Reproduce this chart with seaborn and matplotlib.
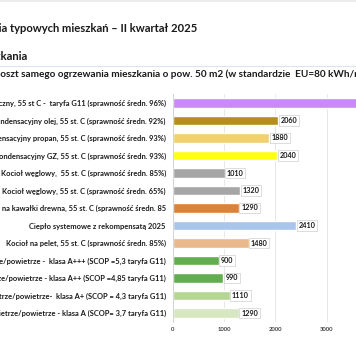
import matplotlib
matplotlib.use('Agg')
import matplotlib.pyplot as plt
import seaborn as sns
import pandas as pd

# data
categories = [
    'Kocioł elektryczny, 55 st C -  taryfa G11 (sprawność średn. 96%)',
    'Kocioł kondensacyjny olej, 55 st. C (sprawność średn. 92%)',
    'Kocioł kondensacyjny propan, 55 st. C (sprawność średn. 93%)',
    'Kocioł kondensacyjny GZ, 55 st. C (sprawność średn. 93%)',
    'Kocioł węglowy,  55 st. C (sprawność średn. 85%)',
    'Kocioł węglowy, 55 st. C (sprawność średn. 65%)',
    'Kocioł na kawałki drewna, 55 st. C (sprawność średn. 85',
    'Ciepło systemowe z rekompensatą 2025',
    'Kocioł na pelet, 55 st. C (sprawność średn. 85%)',
    'Pompa ciepła powietrze/powietrze -  klasa A+++ (SCOP =5,3 taryfa G11)',
    'Pompa ciepła powietrze/powietrze - klasa A++ (SCOP =4,85 taryfa G11)',
    'Pompa ciepła powietrze/powietrze-  klasa A+ (SCOP = 4,3 taryfa G11)',
    'Pompa ciepła powietrze/powietrze - klasa A (SCOP= 3,7 taryfa G11)',
]
costs = [3800, 2060, 1880, 2040, 1010, 1320, 1290, 2410, 1480, 900, 990, 1110, 1290]
bar_colors = ['#c98af7', '#b58f1b', '#f2d06e', '#ffff14', '#a6a6a6', '#a6a6a6',
              '#d9823a', '#a9c5eb', '#eab98b', '#62ad4f', '#62ad4f', '#b5d592', '#d5e8c2']
x_ticks = [0, 1000, 2000, 3000]

title_1 = 'Koszty ogrzewania typowych mieszkań – II kwartał 2025'
title_2 = 'Koszt ogrzewania mieszkania'
title_3 = 'Roczny koszt samego ogrzewania mieszkania o pow. 50 m2 (w standardzie  EU=80 kWh/m2 rok)'

sns.set_style('white')
plt.rcParams['font.family'] = ['Lato', 'DejaVu Sans']

df = pd.DataFrame({'cat': categories, 'cost': costs})

W, H = 356, 364
fig = plt.figure(figsize=(W / 100, H / 100), dpi=100)
ax = fig.add_axes([172.7 / W, (H - 321.75) / H, 205.2 / W, 227.5 / H])

sns.barplot(data=df, x='cost', y='cat', hue='cat', palette=bar_colors,
            legend=False, orient='h', width=0.54, ax=ax, saturation=1)

ax.set_xlim(0, 4000)
ax.set_ylim(len(categories) - 0.5, -0.5)
ax.set_xticks(x_ticks)
ax.set_xticklabels([str(t) for t in x_ticks])
ax.set_xlabel('')
ax.set_ylabel('')
ax.tick_params(axis='y', length=0, pad=5, labelsize=5.4, labelcolor='#1a1a1a')
ax.tick_params(axis='x', length=0, pad=4, labelsize=4.2, labelcolor='#404040')
for lbl in ax.get_yticklabels():
    lbl.set_fontweight('bold')
for lbl in ax.get_xticklabels():
    lbl.set_fontweight('bold')

ax.grid(axis='x', color='#e4e4e4', linewidth=0.6)
ax.set_axisbelow(True)
for side in ['top', 'right', 'bottom']:
    ax.spines[side].set_visible(False)
ax.spines['left'].set_color('#d0d0d0')
ax.spines['left'].set_linewidth(0.6)

for i, v in enumerate(costs):
    ax.text(v + 45, i, str(v), va='center', ha='left', fontsize=5.2,
            fontweight='bold', color='#1a1a1a',
            bbox=dict(boxstyle='square,pad=0.25', fc='white', ec='#cfcfcf', lw=0.5))

# headings (picture is a crop, so the start of the lines is outside)
fig.text(197 / W, 1 - 29 / H, title_1, ha='right', va='center',
         fontsize=8.1, fontweight='bold', color='#1a1a1a')
fig.text(27 / W, 1 - 57 / H, title_2, ha='right', va='center',
         fontsize=8.1, fontweight='bold', color='#1a1a1a')

renderer = fig.canvas.get_renderer()
probe = fig.text(0, 0, 'Roczny k', fontsize=7.2, fontweight='bold')
shift = probe.get_window_extent(renderer).width
probe.remove()
fig.text(-shift / W, 1 - 74 / H, title_3, ha='left', va='center',
         fontsize=7.2, fontweight='bold', color='#1a1a1a')

fig.add_artist(plt.Line2D([0, 1], [1 - 66 / H, 1 - 66 / H], color='#dbe5f1', lw=0.8))
fig.add_artist(plt.Line2D([0, 1], [1 - 1 / H, 1 - 1 / H], color='#ececec', lw=1.5))

fig.savefig('out.png', dpi=100)
